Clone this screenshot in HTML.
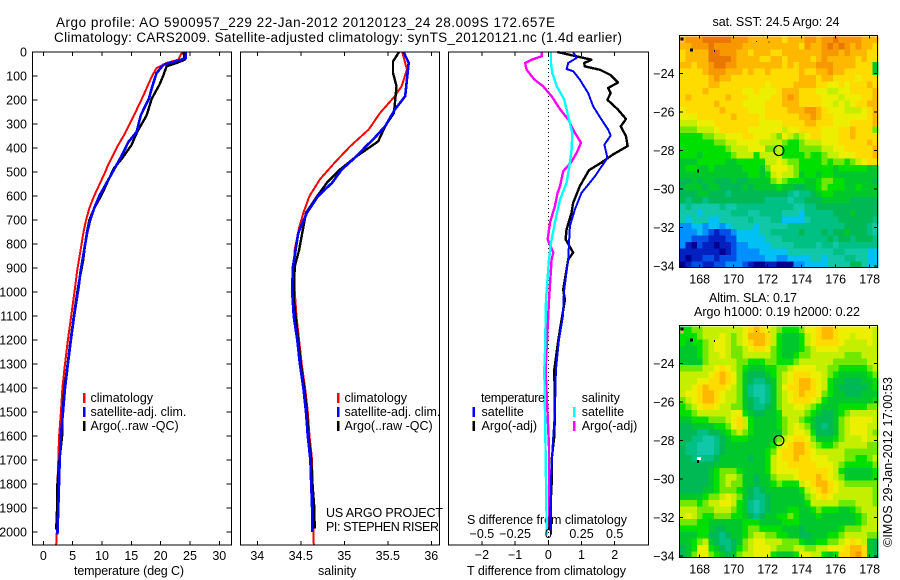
<!DOCTYPE html>
<html><head><meta charset="utf-8"><title>Argo profile</title>
<style>
html,body{margin:0;padding:0;background:#fff;width:900px;height:580px;overflow:hidden}
svg{display:block}
text{font-family:"Liberation Sans",sans-serif;font-size:12.5px;fill:#000}
</style></head><body>
<svg id="fig" width="900" height="580" viewBox="0 0 900 580" xmlns="http://www.w3.org/2000/svg">
<rect width="900" height="580" fill="#fff"/>
<text x="56" y="27" textLength="499" style="font-size:13.5px">Argo profile: AO 5900957_229 22-Jan-2012 20120123_24 28.009S 172.657E</text>
<text x="54" y="42" textLength="568" style="font-size:13.5px">Climatology: CARS2009. Satellite-adjusted climatology: synTS_20120121.nc (1.4d earlier)</text>
<text x="74" y="575" textLength="110">temperature (deg C)</text>
<text x="318" y="575">salinity</text>
<text x="467" y="575" textLength="159">T difference from climatology</text>
<text x="467" y="524" textLength="160">S difference from climatology</text>
<text x="326" y="517" textLength="117">US ARGO PROJECT</text>
<text x="326" y="531" textLength="113">PI: STEPHEN RISER</text>
<text x="712.5" y="26" textLength="127">sat. SST: 24.5 Argo: 24</text>
<text x="709" y="302" textLength="88">Altim. SLA: 0.17</text>
<text x="694" y="316" textLength="166">Argo h1000: 0.19 h2000: 0.22</text>
<text transform="translate(892,547) rotate(-90)" textLength="170">©IMOS 29-Jan-2012 17:00:53</text>
<g id="layer"></g>
</svg>
<script>
// ---------- profile data ----------
const tempClimDepth=[0,32,46,67,102,185,262,340,395,478,492,603,650,700,750,804,908,983,1100,1200,1300,1400,1500,1600,1700,1800,1900,2000,2054];
const tempClimValue=[23.7,23.0,21.0,19.3,18.5,17.0,15.5,13.9,12.6,10.9,10.7,8.6,7.85,7.3,6.85,6.5,5.8,5.4,4.75,4.2,3.7,3.25,3.0,2.7,2.55,2.4,2.3,2.3,2.2];
const tempSatDepth=[0,25,38,53,88,142,194,264,333,375,430,514,597,650,700,750,804,908,983,1100,1200,1300,1400,1500,1600,1700,1800,1900,2010];
const tempSatValue=[24.3,24.3,22.7,20.5,19.3,18.6,18.0,16.6,15.9,14.5,13.4,11.5,9.6,8.7,8.0,7.5,7.1,6.4,6.0,5.25,4.7,4.2,3.7,3.35,3.0,2.8,2.67,2.55,2.4];
const tempArgoDepth=[0,32,46,60,95,136,194,264,333,389,444,486,597,650,700,750,804,867,983,1100,1200,1300,1400,1500,1600,1700,1800,1900,1990];
const tempArgoValue=[23.9,24.1,22.7,21.0,20.5,19.8,18.5,17.6,16.0,15.0,13.4,12.0,9.9,8.7,7.85,7.45,7.1,6.8,5.9,5.2,4.65,4.15,3.6,3.3,3.2,2.75,2.4,2.35,2.2];

const salClimDepth=[0,73,142,184,254,323,392,461,531,600,670,732,825,992,1103,1200,1300,1400,1500,1600,1700,1800,1900,2000,2054];
const salClimValue=[35.667,35.72,35.66,35.58,35.41,35.28,35.07,34.89,34.72,34.6,34.53,34.48,34.43,34.43,34.45,34.48,34.51,34.55,34.58,34.6,34.63,34.635,34.64,34.645,34.65];
const salSatDepth=[0,45,115,184,240,309,365,392,434,490,545,600,670,755,894,992,1103,1200,1300,1400,1500,1600,1700,1800,1900,2000];
const salSatValue=[35.68,35.74,35.72,35.70,35.58,35.47,35.33,35.25,35.14,34.97,34.86,34.7,34.57,34.47,34.41,34.40,34.42,34.46,34.49,34.53,34.56,34.58,34.61,34.62,34.63,34.63];
const salArgoDepth=[0,39,87,142,184,254,309,372,400,434,490,545,600,670,825,894,1033,1200,1300,1400,1500,1600,1700,1800,1900,1985];
const salArgoValue=[35.63,35.56,35.56,35.6,35.59,35.57,35.47,35.39,35.28,35.14,34.95,34.8,34.69,34.56,34.48,34.43,34.42,34.47,34.5,34.54,34.57,34.59,34.62,34.635,34.655,34.66];

const diffTSatDepth=[0,25,46,71,80,115,171,226,281,323,348,386,441,517,587,656,725,864,1000,1100,1200,1325,1500,1645,1783,1979,2010];
const diffTSatValue=[0.75,0.85,0.6,0.55,0.75,0.95,1.2,1.35,1.6,1.8,1.88,1.69,1.78,1.41,1.0,0.8,0.65,0.6,0.47,0.44,0.32,0.23,0.2,0.13,0.08,0.08,0.08];
const diffTArgoDepth=[0,15,32,46,60,74,95,127,150,171,199,240,279,310,351,392,427,461,492,559,628,670,739,781,836,864,990,1033,1100,1200,1325,1500,1600,1700,1800,1990];
const diffTArgoValue=[0.27,0.75,1.3,1.08,1.1,1.56,1.86,2.1,1.8,1.88,1.78,2.1,2.34,2.18,2.34,2.39,1.95,1.6,1.23,0.95,0.75,0.7,0.55,0.52,0.75,0.6,0.45,0.5,0.42,0.3,0.18,0.2,0.18,0.1,0.1,0.03];
const diffSSatDepth=[0,46,88,142,198,267,337,406,461,545,615,711,795,864,1033,1250,1325,1500,1783,1979,2010];
const diffSSatValue=[0.02,0.02,0.03,0.063,0.12,0.15,0.18,0.176,0.163,0.138,0.088,0.05,0.02,0.005,-0.017,-0.025,-0.03,-0.025,-0.017,-0.012,-0.012];
const diffSArgoDepth=[0,18,32,46,74,115,142,184,240,281,337,378,420,461,496,559,587,642,711,781,836,864,1033,1325,1645,1979];
const diffSArgoValue=[-0.05,-0.05,-0.125,-0.175,-0.163,-0.105,-0.04,0.025,0.09,0.15,0.2,0.246,0.214,0.17,0.113,0.088,0.07,0.05,0.013,-0.005,0.038,0.025,0.005,-0.02,0.005,0.007];

// ---------- tick labels ----------
const depthTicks=[0,100,200,300,400,500,600,700,800,900,1000,1100,1200,1300,1400,1500,1600,1700,1800,1900,2000];
const tempTicks=[0,5,10,15,20,25,30];
const salTicks=[34,34.5,35,35.5,36];
const tDiffTicks=[-2,-1,0,1,2];
const sDiffTicks=[-0.5,-0.25,0,0.25,0.5];
const lonTicks=[168,170,172,174,176,178];
const latTicks=[-24,-26,-28,-30,-32,-34];

// ---------- map data (colour level per grid cell, north to south, west to east) ----------
const sstGrid=[
[14,15,15,15,16,16,16,16,16,15,15,15,14,14,14,14,14,14,13,14,14,14,15,15,14,15,15,16,15,15,15,15,14,14,14],
[14,14,15,15,15,16,15,15,15,15,15,14,14,14,14,14,14,14,14,14,14,13,15,14,14,15,16,15,16,15,14,15,14,14,13],
[13,14,14,14,14,16,16,15,15,15,14,14,13,14,14,14,13,13,14,14,14,14,14,14,14,15,15,15,14,15,14,14,14,13,13],
[13,14,14,14,14,16,16,16,16,15,14,14,14,14,13,13,14,14,13,14,14,14,14,13,14,15,14,14,14,14,14,13,14,13,13],
[14,14,13,14,14,15,16,16,15,15,14,14,14,14,14,14,14,14,13,14,13,14,14,14,15,15,15,14,14,14,14,13,13,13,8],
[13,13,13,13,14,15,15,15,14,14,14,13,14,13,13,14,13,13,13,13,13,14,13,13,14,14,15,14,14,13,13,13,13,13,8],
[13,13,13,13,13,14,15,14,14,13,13,13,13,13,13,13,13,13,13,13,13,14,14,14,13,14,14,13,13,13,13,12,13,13,13],
[13,13,13,13,13,14,14,13,13,13,13,13,13,13,13,12,13,13,13,13,14,14,14,14,13,13,12,12,13,12,13,13,13,14,13],
[13,13,13,13,14,13,13,13,13,13,13,12,12,13,12,12,12,13,14,14,14,13,13,13,12,12,11,11,12,12,13,13,13,13,14],
[13,14,13,13,13,13,13,13,14,13,13,13,12,12,12,12,13,13,14,15,14,13,13,13,13,12,12,12,11,12,12,12,13,13,14],
[13,13,13,13,13,13,14,13,13,13,13,12,12,12,12,13,13,13,14,14,14,13,13,13,13,12,12,11,12,11,12,13,13,14,14],
[12,13,13,13,13,13,13,14,13,13,13,13,12,12,12,13,13,13,13,14,14,14,15,15,14,13,12,12,12,11,11,11,12,13,14],
[12,12,12,13,13,13,13,13,13,14,13,13,13,13,12,13,13,13,13,13,13,14,14,15,14,13,13,12,12,12,12,12,12,13,14],
[11,11,11,12,12,12,13,13,13,13,13,13,13,13,12,12,12,12,13,13,13,13,14,14,13,13,13,12,12,12,13,13,13,13,14],
[10,10,10,11,11,11,12,13,13,13,13,13,12,12,12,12,12,12,11,12,12,13,13,13,13,12,12,12,13,13,14,13,13,13,10],
[9,9,9,9,10,10,11,11,12,12,12,13,13,12,12,12,11,10,12,11,10,11,12,13,13,12,12,12,13,13,14,13,13,13,13],
[9,9,9,9,9,9,10,10,11,11,12,12,12,12,11,11,11,11,10,9,9,10,11,11,11,12,12,12,13,13,13,13,13,14,13],
[9,9,9,9,9,9,9,9,10,11,11,11,12,12,12,10,10,11,9,9,9,10,10,10,10,11,11,12,12,13,13,13,13,13,14],
[9,9,9,8,9,9,9,9,9,10,11,11,11,9,11,11,11,11,9,9,9,9,10,9,9,10,11,11,12,12,12,13,13,13,14],
[8,8,8,9,9,9,9,9,8,8,9,9,9,9,9,11,11,12,11,10,10,9,9,9,9,10,9,10,10,9,10,11,12,13,13],
[8,9,9,8,8,9,8,8,8,8,8,9,9,9,8,10,12,12,12,11,10,9,9,9,9,9,9,8,9,9,9,9,9,8,8],
[8,8,8,8,8,8,8,8,8,8,8,8,9,9,8,9,11,12,11,11,10,8,9,9,8,9,9,8,8,8,8,8,8,8,8],
[7,7,8,7,8,8,7,7,7,8,7,7,8,8,8,8,10,11,10,9,9,9,8,8,9,10,10,9,9,8,8,8,8,8,7],
[7,8,8,8,7,8,8,7,7,7,7,8,7,8,8,8,8,9,8,8,7,7,8,8,9,10,9,9,9,8,8,9,8,8,8],
[7,7,7,8,8,7,7,7,6,7,7,7,7,7,7,7,7,7,7,6,5,6,6,7,8,9,9,8,8,8,8,8,8,8,8],
[7,6,7,7,6,7,7,7,7,7,7,7,7,7,7,6,6,6,6,5,6,6,7,7,7,8,8,8,8,8,7,7,7,7,7],
[5,6,5,5,5,5,5,6,5,5,6,6,6,6,6,6,6,6,6,6,5,5,6,6,7,7,7,7,7,7,7,7,7,7,7],
[5,5,5,4,5,5,5,5,5,6,6,6,5,5,6,6,6,6,5,5,5,4,6,6,6,6,6,7,7,7,8,7,7,7,7],
[5,4,5,5,5,4,4,5,5,5,5,5,6,5,5,5,6,6,4,4,4,4,5,6,6,6,6,6,7,7,7,7,7,7,6],
[3,3,4,4,3,4,4,3,4,5,5,5,5,4,5,5,5,5,5,6,6,6,6,6,6,6,6,6,6,7,7,7,7,6,5],
[3,3,3,4,3,2,1,2,2,3,4,4,4,4,5,5,6,6,6,6,6,7,6,6,6,7,6,7,7,8,7,7,7,6,5],
[3,3,2,2,2,1,1,1,2,2,4,4,4,4,4,5,5,5,6,6,6,6,6,6,6,6,7,6,7,7,6,7,7,7,6],
[3,1,0,2,1,1,0,1,1,2,3,3,4,4,4,4,5,5,5,5,6,6,6,6,5,6,6,5,6,6,6,6,6,6,6],
[1,1,1,1,1,1,1,0,1,2,3,3,3,3,4,4,4,4,4,5,5,5,5,5,5,5,5,6,6,5,5,5,5,4,4],
[1,0,1,1,2,2,1,2,2,2,3,3,3,3,3,4,4,3,3,4,4,4,4,5,5,4,5,5,5,6,6,5,5,4,4],
[0,1,2,2,1,1,2,2,3,3,3,2,1,0,0,1,1,0,0,0,3,3,4,4,4,4,5,5,5,5,7,7,5,4,4]
];
const slaGrid=[
[9,9,10,10,11,11,11,11,11,11,11,12,13,14,13,12,11,10,9,9,9,10,12,12,13,14,14,13,12,12,12,12,12,12,11],
[9,9,9,10,11,11,11,12,11,10,11,12,14,14,14,13,11,9,8,8,8,9,11,12,13,14,14,13,12,12,11,12,12,12,11],
[9,8,9,9,10,11,12,12,11,10,11,12,13,14,14,13,11,9,8,8,8,9,11,12,13,13,13,13,12,11,11,11,11,12,11],
[8,8,8,9,10,11,12,12,11,10,10,11,12,13,13,12,10,9,8,8,8,9,10,11,12,12,12,12,11,11,11,11,11,11,11],
[8,8,8,9,10,11,11,12,11,10,10,11,11,11,11,11,10,9,8,8,9,10,10,11,11,11,11,11,11,10,10,10,11,11,11],
[8,8,8,8,10,11,11,11,11,11,10,10,9,9,9,10,10,9,9,9,10,11,11,11,11,11,11,10,10,10,10,10,10,11,11],
[10,10,10,10,11,11,12,13,12,11,10,9,8,8,8,9,9,10,10,11,12,12,12,12,11,11,10,10,9,9,9,9,9,10,11],
[11,11,11,11,11,12,13,14,13,12,10,8,7,7,7,8,9,10,11,12,13,13,13,12,12,11,10,9,8,8,8,8,8,9,10],
[11,11,11,12,12,13,13,14,13,12,10,8,7,6,6,7,8,10,11,12,13,14,14,13,12,11,9,8,8,7,7,7,8,8,9],
[11,11,12,13,14,13,13,13,12,11,10,8,6,5,5,6,8,10,12,13,13,14,14,13,12,11,9,8,7,7,7,7,7,8,9],
[11,12,12,13,14,14,13,12,11,11,10,8,6,5,5,6,8,10,11,12,13,14,13,13,12,10,9,8,8,7,7,7,8,8,8],
[10,11,12,13,14,14,13,12,11,11,10,8,7,6,5,6,8,10,11,12,13,13,13,12,11,9,8,8,8,8,8,8,8,8,9],
[9,10,11,12,13,13,12,11,11,10,10,8,7,6,6,7,8,10,11,11,12,12,11,10,9,8,8,8,9,9,9,9,9,10,10],
[9,9,10,11,11,11,11,11,11,12,12,9,8,7,7,8,8,9,11,11,11,11,10,9,8,7,7,8,9,10,11,11,11,11,11],
[8,8,9,9,9,10,10,10,11,12,13,11,9,8,8,8,8,9,10,11,11,10,9,8,7,7,7,8,10,11,12,12,12,12,11],
[7,7,8,8,8,8,9,9,10,12,13,11,9,8,8,8,8,9,10,11,12,11,10,8,7,6,7,8,10,11,12,12,12,11,11],
[7,7,7,6,6,7,7,8,9,10,11,10,9,8,8,8,8,8,10,11,12,12,11,9,7,7,7,8,10,11,12,12,12,11,10],
[7,7,6,6,5,5,6,7,8,9,9,9,8,8,8,8,8,10,11,12,13,13,12,10,8,8,8,9,10,11,11,11,12,11,11],
[7,6,6,5,5,5,6,7,8,8,8,8,8,8,8,8,9,11,12,13,14,14,13,11,10,9,9,10,11,11,11,11,11,10,10],
[7,6,6,5,5,5,6,7,8,8,8,8,8,8,8,9,10,12,13,13,14,14,13,12,11,11,11,11,11,10,10,10,10,10,10],
[7,7,6,6,6,6,7,8,8,8,8,8,7,8,8,9,11,12,13,13,14,13,13,12,12,12,11,11,11,10,10,9,9,10,11],
[7,7,7,7,7,7,8,8,8,8,8,8,8,8,8,9,11,12,12,13,13,13,13,13,12,12,12,11,10,9,9,9,9,9,10],
[7,7,7,7,7,8,9,10,10,10,9,8,8,8,8,9,11,12,12,12,12,13,13,13,13,13,12,11,9,8,8,8,8,8,9],
[7,7,7,7,7,8,9,10,11,11,10,8,8,7,8,8,10,11,11,11,12,13,13,13,14,13,12,11,10,8,8,8,8,8,9],
[7,7,7,7,7,8,9,10,11,10,10,8,8,7,8,8,9,10,9,9,9,11,12,13,14,14,13,12,11,10,10,10,10,10,10],
[7,7,7,7,8,8,9,10,10,10,9,8,7,6,7,8,8,8,8,8,8,9,11,12,13,14,13,12,11,11,11,11,11,11,10],
[8,8,8,8,9,10,10,11,12,11,10,8,7,6,6,7,8,8,8,8,8,8,10,11,12,13,12,11,11,11,11,11,11,11,10],
[10,10,10,9,10,11,11,12,12,11,9,8,6,5,6,7,8,8,8,8,8,8,9,11,11,11,11,11,10,10,10,11,11,11,10],
[11,11,11,10,10,10,11,11,11,10,9,8,6,5,6,7,8,8,8,9,9,8,8,9,10,9,9,9,8,8,9,10,11,11,11],
[11,12,11,10,9,9,10,10,10,9,9,8,7,6,7,8,8,9,9,10,9,8,8,8,9,8,8,8,8,8,8,9,10,11,11],
[10,10,10,9,9,8,8,8,8,8,8,9,9,9,8,8,8,8,9,9,9,8,8,8,8,8,8,8,8,8,8,9,10,11,11],
[9,9,9,9,9,8,7,7,8,8,8,9,10,10,9,9,9,9,8,8,8,7,8,8,8,8,8,8,9,10,10,10,11,11,11],
[8,8,8,9,9,7,7,6,7,8,8,9,10,11,11,10,10,9,9,8,8,7,7,8,8,8,9,9,10,11,11,11,11,10,10],
[8,8,9,10,11,8,7,6,6,7,8,10,11,12,12,11,11,11,10,10,10,9,8,8,9,9,10,10,11,12,13,12,11,8,7],
[7,8,9,12,12,9,8,7,6,7,9,10,11,12,12,12,11,10,10,10,11,11,10,10,11,11,12,12,12,13,14,14,13,8,7],
[7,8,10,12,12,10,9,8,7,8,10,11,11,12,12,12,9,8,8,8,9,12,12,11,11,9,8,9,13,13,14,15,13,8,7]
];
const argoLon=[172.657];
const argoLat=[-28.009];

// ---------- colour map and helpers ----------
const levelColors=['#000090','#0020c0','#0050e8','#0090ff','#00c0f4','#10c8a8','#00c084','#00b854','#00c82c','#00e000','#70e800','#c4f000','#ecf000','#ffdc00','#ffb800','#f89800','#e87800'];
const NS='http://www.w3.org/2000/svg';
const layer=document.getElementById('layer');
function mk(tag,attrs,parent){const e=document.createElementNS(NS,tag);for(const k in attrs)e.setAttribute(k,attrs[k]);(parent||layer).appendChild(e);return e;}
function fmt(v){return String(v).replace('-','\u2212');}

const DTOP=52,DBOTTOM=545,DSCALE=0.24;
function yDepth(d){return DTOP+d*DSCALE;}
function xTemp(v){return 43.3+v*5.867;}
function xSal(v){return 257.3+(v-34)*87;}
function xTDiff(v){return 548.3+v*33.2;}
function xSDiff(v){return 548.3+v*132.8;}
function lonX(v){return 699.7+(v-168)*17;}
function latY1(v){return 73.3+(-24-v)*19.27;}
function latY2(v){return 363.3+(-24-v)*19.27;}

function drawFrame(x0,y0,x1,y1,name){
  const r=mk('rect',{x:x0,y:y0,width:x1-x0,height:y1-y0,fill:'none',stroke:'#000','stroke-width':1,'shape-rendering':'crispEdges'});
  
  
}
function tick(x1,y1,x2,y2,name){
  const l=mk('line',{x1:x1,y1:y1,x2:x2,y2:y2,stroke:'#000','stroke-width':1,'shape-rendering':'crispEdges'});
  
  
}
function label(x,y,str,anchor,name,len){
  const t=mk('text',{x:x,y:y,'text-anchor':anchor});
  if(len)t.setAttribute('textLength',len);
  t.textContent=str;
  
  
}
function profile(xFn,depths,values,color,width,name){
  const pts=depths.map((d,i)=>xFn(values[i]).toFixed(1)+','+yDepth(d).toFixed(1)).join(' ');
  const p=mk('polyline',{points:pts,fill:'none',stroke:color,'stroke-width':width,'stroke-linejoin':'round','shape-rendering':'crispEdges'});
  
  
}
function legendMark(x,yc,color,name){
  const r=mk('rect',{x:x,y:yc-5,width:2.5,height:10,fill:color,'shape-rendering':'crispEdges'});
  
  
}

// ---------- panel 1: temperature ----------
profile(xTemp,tempClimDepth,tempClimValue,'#ff0000',2,'temperature-climatology-line');
profile(xTemp,tempArgoDepth,tempArgoValue,'#000000',2.4,'temperature-argo-line');
profile(xTemp,tempSatDepth,tempSatValue,'#0000ff',2.6,'temperature-satellite-line');
drawFrame(32.5,52,231.5,545,'temperature-panel-frame');
depthTicks.forEach(d=>{
  tick(32.5,yDepth(d),37.5,yDepth(d),'depth-tick-left');
  tick(226.5,yDepth(d),231.5,yDepth(d),'depth-tick-right');
  label(27,yDepth(d)+4.5,String(d),'end','depth-tick-label');
});
tempTicks.forEach(v=>{
  tick(xTemp(v),52,xTemp(v),56,'temperature-tick-top');
  tick(xTemp(v),541,xTemp(v),545,'temperature-tick-bottom');
  label(xTemp(v),560,String(v),'middle','temperature-tick-label');
});
legendMark(83,398,'#ff0000','legend-mark-climatology');
legendMark(83,412,'#0000ff','legend-mark-satellite');
legendMark(83,426,'#000000','legend-mark-argo');
label(90.5,402,'climatology','start','legend-label-climatology');
label(90.5,416,'satellite-adj. clim.','start','legend-label-satellite');
label(90.5,430,'Argo(..raw -QC)','start','legend-label-argo');

// ---------- panel 2: salinity ----------
profile(xSal,salClimDepth,salClimValue,'#ff0000',2,'salinity-climatology-line');
profile(xSal,salArgoDepth,salArgoValue,'#000000',2.4,'salinity-argo-line');
profile(xSal,salSatDepth,salSatValue,'#0000ff',2.6,'salinity-satellite-line');
drawFrame(240.5,52,439.5,545,'salinity-panel-frame');
salTicks.forEach(v=>{
  tick(xSal(v),52,xSal(v),56,'salinity-tick-top');
  tick(xSal(v),541,xSal(v),545,'salinity-tick-bottom');
  label(xSal(v),560,String(v),'middle','salinity-tick-label');
});
legendMark(337,398,'#ff0000','legend-mark-climatology');
legendMark(337,412,'#0000ff','legend-mark-satellite');
legendMark(337,426,'#000000','legend-mark-argo');
label(344.5,402,'climatology','start','legend-label-climatology');
label(344.5,416,'satellite-adj. clim.','start','legend-label-satellite');
label(344.5,430,'Argo(..raw -QC)','start','legend-label-argo');

// ---------- panel 3: differences ----------
const zeroLine=mk('line',{x1:xTDiff(0),y1:52,x2:xTDiff(0),y2:545,stroke:'#000','stroke-width':1,'stroke-dasharray':'1 3','shape-rendering':'crispEdges'});


profile(xSDiff,diffSArgoDepth,diffSArgoValue,'#ff00ff',2.4,'salinity-diff-argo-line');
profile(xTDiff,diffTArgoDepth,diffTArgoValue,'#000000',2.4,'temperature-diff-argo-line');
profile(xTDiff,diffTSatDepth,diffTSatValue,'#0000ff',2,'temperature-diff-satellite-line');
profile(xSDiff,diffSSatDepth,diffSSatValue,'#00ffff',2.4,'salinity-diff-satellite-line');
drawFrame(448.5,52,648.5,545,'difference-panel-frame');
tDiffTicks.forEach(v=>{
  tick(xTDiff(v),52,xTDiff(v),56,'t-difference-tick-top');
  tick(xTDiff(v),541,xTDiff(v),545,'t-difference-tick-bottom');
  label(xTDiff(v),559,fmt(v),'middle','t-difference-tick-label');
});
sDiffTicks.forEach(v=>{
  label(xSDiff(v),538,fmt(v),'middle','s-difference-tick-label');
});
label(481,402,'temperature','start','legend-heading-temperature',64);
label(481.5,416,'satellite','start','legend-label-t-satellite');
label(481.5,430,'Argo(-adj)','start','legend-label-t-argo');
label(581.7,402,'salinity','start','legend-heading-salinity');
label(581.7,416,'satellite','start','legend-label-s-satellite');
label(581.7,430,'Argo(-adj)','start','legend-label-s-argo');
legendMark(472.5,412,'#0000ff','legend-mark-t-satellite');
legendMark(472.5,426,'#000000','legend-mark-t-argo');
legendMark(573,412,'#00ffff','legend-mark-s-satellite');
legendMark(573,426,'#ff00ff','legend-mark-s-argo');

// ---------- maps ----------
const LON0=166.84,LAT0=-22.09,CELL=1/3;
function drawMap(grid,latY,top,bottom,name){
  const g=mk('g',{'shape-rendering':'crispEdges'});
  
  
  grid.forEach((row,r)=>{
    row.forEach((level,c)=>{
      const x0=lonX(LON0+c*CELL),x1=lonX(LON0+(c+1)*CELL);
      const y0=latY(LAT0-r*CELL),y1=Math.min(latY(LAT0-(r+1)*CELL),bottom);
      const cell=mk('rect',{x:x0.toFixed(2),y:y0.toFixed(2),width:(x1-x0+0.4).toFixed(2),height:(y1-y0+0.4).toFixed(2),fill:levelColors[level]},g);
      
      
    });
  });
  drawFrame(679.5,top,877.5,bottom,name+'-frame');
  lonTicks.forEach(v=>{
    tick(lonX(v),top,lonX(v),top+3,name+'-lon-tick-top');
    tick(lonX(v),bottom-3,lonX(v),bottom,name+'-lon-tick-bottom');
    label(lonX(v),bottom+16,String(v),'middle',name+'-lon-tick-label');
  });
  latTicks.forEach(v=>{
    tick(679.5,latY(v),683,latY(v),name+'-lat-tick-left');
    tick(874,latY(v),877.5,latY(v),name+'-lat-tick-right');
    label(674.5,latY(v)+4.5,fmt(v),'end',name+'-lat-tick-label');
  });
  argoLon.forEach((lon,i)=>{
    const c=mk('circle',{cx:lonX(lon),cy:latY(argoLat[i]),r:5,fill:'none',stroke:'#000','stroke-width':1.2});
    
    
  });
  function speck(lon,lat,w,h,color){
    const s=mk('rect',{x:lonX(lon),y:latY(lat),width:w,height:h,fill:color,'shape-rendering':'crispEdges'});
    
    
  }
  speck(166.87,-22.15,3,3,'#000');
  speck(166.87,-22.3,3,3,'#ffb080');
  speck(167.42,-22.72,3,3,'#000');
  speck(168.85,-22.8,1,2,'#000');
  speck(171.3,-22.32,1,1,'#000');
  speck(172.05,-22.35,1,1,'#000');
}
drawMap(sstGrid,latY1,35.5,267.5,'sst-map');
drawMap(slaGrid,latY2,325.5,557.5,'sla-map');
const slaWhite=mk('rect',{x:lonX(167.85),y:latY2(-28.85),width:4,height:3,fill:'#fff','shape-rendering':'crispEdges'});


const slaBlack=mk('rect',{x:lonX(167.85),y:latY2(-29.02),width:2,height:3,fill:'#000','shape-rendering':'crispEdges'});


const sstBlack=mk('rect',{x:lonX(167.85),y:latY1(-29),width:2,height:3,fill:'#000','shape-rendering':'crispEdges'});


</script>
</body></html>
